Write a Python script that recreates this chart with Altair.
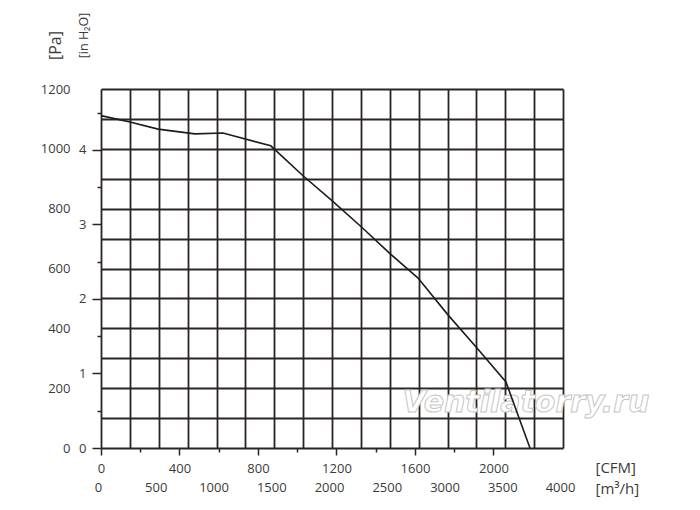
import altair as alt
import pandas as pd

# ---- data (flow in m³/h, static pressure in Pa) ----
flow_m3h = [0, 251, 494, 814, 1056, 1470, 1749, 2000, 2260, 2502, 2745, 3004, 3255, 3506, 3714]
pressure_pa = [1111, 1090, 1066, 1050, 1053, 1010, 910, 827, 737, 650, 568, 445, 334, 221, 0]

# ---- axes / grid values ----
m3h_grid = list(range(0, 4001, 250))
m3h_labels = [0, 500, 1000, 1500, 2000, 2500, 3000, 3500, 4000]
pa_grid = list(range(0, 1201, 100))
pa_labels = [0, 200, 400, 600, 800, 1000, 1200]
cfm_major = [0, 400, 800, 1200, 1600, 2000]
cfm_minor = [200, 600, 1000, 1400, 1800]
inh2o_major = [0, 1, 2, 3, 4]
inh2o_minor = [0.5, 1.5, 2.5, 3.5, 4.5]
watermark = ["Ventilatorry.ru"]

M3H_MAX = 4000
PA_MAX = 1200
CFM_MAX = M3H_MAX / 1.69901
INH2O_MAX = PA_MAX / 249.0889

FONT = "Open Sans"
TXT = "#3b3b3b"
INK = "#2a2523"


def lab_expr(vals):
    return "indexof([" + ",".join(str(v) for v in vals) + "], datum.value) >= 0 ? datum.label : ''"


curve = pd.DataFrame({"q": flow_m3h, "p": pressure_pa})

line = alt.Chart(curve).mark_line(color="#1c1c1c", strokeWidth=1.6).encode(
    x=alt.X("q:Q", scale=alt.Scale(domain=[0, M3H_MAX], nice=False, zero=True),
            axis=alt.Axis(orient="bottom", values=m3h_grid, grid=True, gridColor=INK, gridWidth=1.8,
                          ticks=False, domain=False, labelExpr=lab_expr(m3h_labels), format="d",
                          labelOverlap=False, labelFlush=False, labelPadding=39, labelBaseline="middle",
                          labelOffset=-3, labelFont=FONT, labelFontSize=13, labelColor=TXT,
                          title="[m³/h]", titleX=494, titleY=40, titleAlign="left", titleBaseline="middle",
                          titleAngle=0, titleFont=FONT, titleFontSize=15, titleFontWeight="normal",
                          titleColor=TXT)),
    y=alt.Y("p:Q", scale=alt.Scale(domain=[0, PA_MAX], nice=False, zero=True),
            axis=alt.Axis(orient="left", values=pa_grid, grid=True, gridColor=INK, gridWidth=1.8,
                          ticks=False, domain=False, labelExpr=lab_expr(pa_labels), format="d",
                          labelOverlap=False, labelFlush=False, labelPadding=31, labelBaseline="middle",
                          labelFont=FONT, labelFontSize=13, labelColor=TXT,
                          title="[Pa]", titleX=-46, titleY=-44, titleAlign="center", titleBaseline="middle",
                          titleAngle=270, titleFont=FONT, titleFontSize=16, titleFontWeight="normal",
                          titleColor=TXT)),
)

cfm_major_layer = alt.Chart(pd.DataFrame({"cfm": cfm_major})).mark_point(opacity=0).encode(
    x=alt.X("cfm:Q", scale=alt.Scale(domain=[0, CFM_MAX], nice=False, zero=True),
            axis=alt.Axis(orient="bottom", values=cfm_major, grid=False, domain=False,
                          ticks=True, tickSize=7, tickWidth=1.5, tickColor=INK, format="d",
                          labelOverlap=False, labelFlush=False, labelPadding=13, labelBaseline="middle",
                          labelFont=FONT, labelFontSize=13, labelColor=TXT,
                          title="[CFM]", titleX=494, titleY=19, titleAlign="left", titleBaseline="middle",
                          titleAngle=0, titleFont=FONT, titleFontSize=15, titleFontWeight="normal",
                          titleColor=TXT)),
)

cfm_minor_layer = alt.Chart(pd.DataFrame({"cfm": cfm_minor})).mark_point(opacity=0).encode(
    x=alt.X("cfm:Q", scale=alt.Scale(domain=[0, CFM_MAX], nice=False, zero=True),
            axis=alt.Axis(orient="bottom", values=cfm_minor, grid=False, domain=False,
                          ticks=True, tickSize=4, tickWidth=1.5, tickColor=INK,
                          labels=False, title=None)),
)

inh2o_major_layer = alt.Chart(pd.DataFrame({"w": inh2o_major})).mark_point(opacity=0).encode(
    y=alt.Y("w:Q", scale=alt.Scale(domain=[0, INH2O_MAX], nice=False, zero=True),
            axis=alt.Axis(orient="left", values=inh2o_major, grid=False, domain=False,
                          ticks=True, tickSize=9, tickWidth=1.5, tickColor=INK, format="d",
                          labelOverlap=False, labelFlush=False, labelPadding=6, labelBaseline="middle",
                          labelFont=FONT, labelFontSize=13, labelColor=TXT,
                          title="[in H₂O]", titleX=-18, titleY=-54, titleAlign="center",
                          titleBaseline="middle", titleAngle=270, titleFont=FONT, titleFontSize=12.5,
                          titleFontWeight="normal", titleColor=TXT)),
)

inh2o_minor_layer = alt.Chart(pd.DataFrame({"w": inh2o_minor})).mark_point(opacity=0).encode(
    y=alt.Y("w:Q", scale=alt.Scale(domain=[0, INH2O_MAX], nice=False, zero=True),
            axis=alt.Axis(orient="left", values=inh2o_minor, grid=False, domain=False,
                          ticks=True, tickSize=4, tickWidth=1.5, tickColor=INK,
                          labels=False, title=None)),
)

wm = alt.Chart(pd.DataFrame({"t": watermark})).mark_text(
    font="DejaVu Sans", fontStyle="italic", fontWeight="bold", fontSize=30, fill="white",
    stroke="#c6c6c6", strokeWidth=1, align="center", baseline="alphabetic"
).encode(x=alt.value(425), y=alt.value(323), text="t:N")

chart = alt.layer(
    wm, line, cfm_major_layer, cfm_minor_layer, inh2o_major_layer, inh2o_minor_layer
).resolve_scale(x="independent", y="independent").properties(
    width=462, height=359, autosize="none",
    padding={"left": 93, "top": 81, "right": 129, "bottom": 50},
    background="white",
).configure_view(strokeWidth=0)

chart.save("out.html", embed_options={"renderer": "svg", "actions": False})
